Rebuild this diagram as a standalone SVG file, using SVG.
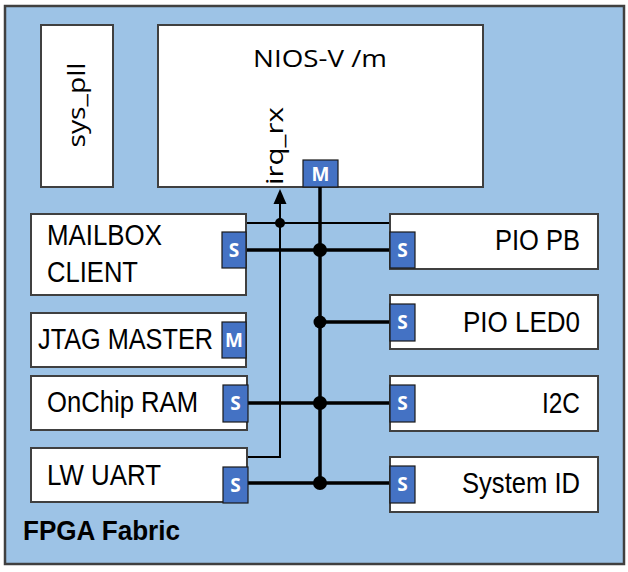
<svg xmlns="http://www.w3.org/2000/svg" width="628" height="572" viewBox="0 0 628 572">
<style>
.box{fill:#fff;stroke:#404040;stroke-width:2}
.port{fill:#4472C4;stroke:#1a1a1a;stroke-width:1.2}
.pl{font-family:"Open Sans","Noto Sans",sans-serif;font-weight:bold;font-size:19px;fill:#fff;text-anchor:middle}
.lbl{font-family:"Liberation Sans",Arial,sans-serif;font-size:29px;fill:#000}
.r{text-anchor:end}
.cal{font-family:"Open Sans","Noto Sans",sans-serif;font-size:23px;fill:#000}
.thick{stroke:#000;stroke-width:3.5;fill:none}
.thin{stroke:#000;stroke-width:2;fill:none}
</style>
<rect id="fabric" x="5" y="6" width="619" height="558" fill="#9DC3E6" stroke="#404040" stroke-width="2.5"/>
<text x="23" y="540" font-family="Liberation Sans,Arial,sans-serif" font-weight="bold" font-size="27" textLength="157" lengthAdjust="spacingAndGlyphs">FPGA Fabric</text>

<g id="sys_pll">
<rect class="box" x="41" y="25" width="72" height="162"/>
<text class="cal" transform="translate(85,105) rotate(-90)" text-anchor="middle" textLength="85" lengthAdjust="spacingAndGlyphs">sys_pll</text>
</g>

<g id="nios">
<rect class="box" x="158" y="25" width="325" height="162"/>
<text class="cal" x="320" y="67" text-anchor="middle" textLength="134" lengthAdjust="spacingAndGlyphs">NIOS-V /m</text>
<text class="cal" transform="translate(283,185) rotate(-90)" textLength="78" lengthAdjust="spacingAndGlyphs">irq_rx</text>
<rect class="port" x="303" y="160" width="35" height="27"/>
<text class="pl" x="320.5" y="181">M</text>
</g>

<g id="connectors">
<path class="thin" d="M247,457 H280 V200"/>
<polygon points="280,189 273.5,204 286.5,204" fill="#000"/>
<path class="thin" d="M247,223 H390"/>
<path class="thick" d="M320,187 V483"/>
<path class="thick" d="M246,250 H390"/>
<path class="thick" d="M320,322 H390"/>
<path class="thick" d="M248,403 H390"/>
<path class="thick" d="M248,483 H390"/>
<circle cx="280" cy="223" r="5" fill="#000"/>
<circle cx="320" cy="250" r="7" fill="#000"/>
<circle cx="320" cy="322" r="6.5" fill="#000"/>
<circle cx="320" cy="403" r="7" fill="#000"/>
<circle cx="320" cy="483" r="7" fill="#000"/>
</g>

<g id="mailbox">
<rect class="box" x="31" y="214" width="215" height="81"/>
<text class="lbl" x="47" y="245" textLength="115" lengthAdjust="spacingAndGlyphs">MAILBOX</text>
<text class="lbl" x="47" y="282" textLength="91" lengthAdjust="spacingAndGlyphs">CLIENT</text>
<rect class="port" x="222" y="232" width="24" height="36"/>
<text class="pl" x="234" y="257">S</text>
</g>

<g id="jtag">
<rect class="box" x="31" y="313" width="215" height="54"/>
<text class="lbl" x="38" y="349" font-size="26" textLength="175" lengthAdjust="spacingAndGlyphs">JTAG MASTER</text>
<rect class="port" x="222" y="322" width="24" height="36"/>
<text class="pl" x="234" y="347" font-size="18">M</text>
</g>

<g id="onchip">
<rect class="box" x="31" y="376" width="216" height="54"/>
<text class="lbl" x="47" y="412" textLength="151" lengthAdjust="spacingAndGlyphs">OnChip RAM</text>
<rect class="port" x="223" y="385" width="25" height="37"/>
<text class="pl" x="235.5" y="410">S</text>
</g>

<g id="uart">
<rect class="box" x="31" y="448" width="216" height="54"/>
<text class="lbl" x="47" y="485" textLength="114" lengthAdjust="spacingAndGlyphs">LW UART</text>
<rect class="port" x="223" y="467" width="25" height="36"/>
<text class="pl" x="235.5" y="492">S</text>
</g>

<g id="piopb">
<rect class="box" x="390" y="214" width="208" height="55"/>
<text class="lbl r" x="580" y="250" textLength="85" lengthAdjust="spacingAndGlyphs">PIO PB</text>
<rect class="port" x="390" y="232" width="25" height="36"/>
<text class="pl" x="402.5" y="257">S</text>
</g>

<g id="pioled0">
<rect class="box" x="390" y="295" width="208" height="54"/>
<text class="lbl r" x="580" y="332" textLength="117" lengthAdjust="spacingAndGlyphs">PIO LED0</text>
<rect class="port" x="390" y="304" width="25" height="37"/>
<text class="pl" x="402.5" y="329">S</text>
</g>

<g id="i2c">
<rect class="box" x="390" y="376" width="208" height="55"/>
<text class="lbl r" x="580" y="413" textLength="38" lengthAdjust="spacingAndGlyphs">I2C</text>
<rect class="port" x="390" y="385" width="25" height="37"/>
<text class="pl" x="402.5" y="410">S</text>
</g>

<g id="sysid">
<rect class="box" x="390" y="457" width="208" height="55"/>
<text class="lbl r" x="580" y="493" textLength="118" lengthAdjust="spacingAndGlyphs">System ID</text>
<rect class="port" x="390" y="466" width="25" height="37"/>
<text class="pl" x="402.5" y="491">S</text>
</g>
</svg>
